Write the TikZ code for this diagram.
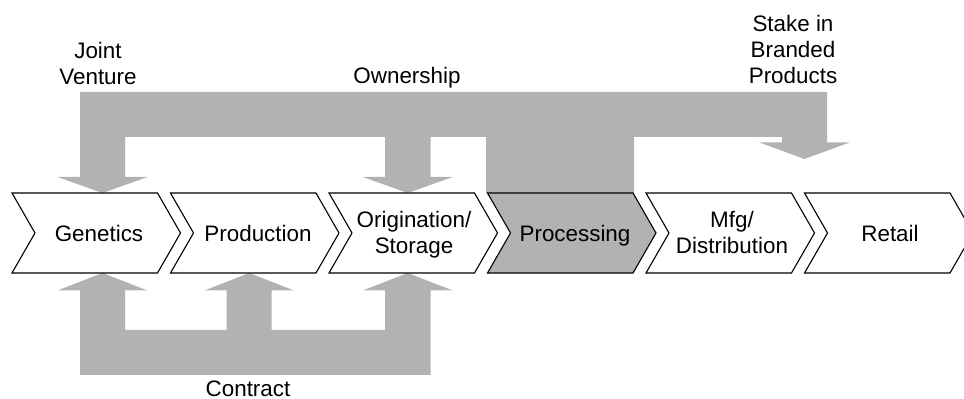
\documentclass[tikz,border=0pt]{standalone}
\usepackage{fontspec}
\setmainfont{Liberation Sans}
\definecolor{flowgray}{RGB}{178,178,178}

\begin{document}
\begin{tikzpicture}[x=0.5pt, y=-0.5pt,
  flow/.style={fill=flowgray, draw=none},
  stage/.style={draw=black, line width=0.55pt, line join=miter},
  stagetext/.style={font=\fontsize{11.2}{13.1}\selectfont, align=center, inner sep=0pt, anchor=base},
]
\clip (0,0) rectangle (964,399);

% ownership band with its three downward arrows and the processing block
\fill[flow] (80,92) -- (827,92) -- (827,142.5) -- (849.5,142.5) -- (804.5,159)
  -- (759.5,142.5) -- (782,142.5) -- (782,137) -- (634,137) -- (634,193)
  -- (486,193) -- (486,137) -- (430.5,137) -- (430.5,177) -- (452.75,177)
  -- (407.75,193) -- (362.75,177) -- (385,177) -- (385,137) -- (125,137)
  -- (125,177) -- (147.5,177) -- (102.5,193) -- (57.5,177) -- (80,177) -- cycle;

% contract band with its three upward arrows
\fill[flow] (80,375) -- (430.5,375) -- (430.5,290.5) -- (452.75,290.5)
  -- (407.75,273) -- (362.75,290.5) -- (385,290.5) -- (385,330) -- (271.7,330)
  -- (271.7,290.5) -- (294,290.5) -- (249.2,273) -- (204.4,290.5) -- (226.7,290.5)
  -- (226.7,330) -- (125,330) -- (125,290.5) -- (147.5,290.5) -- (102.5,273)
  -- (57.5,290.5) -- (80,290.5) -- cycle;

% value-chain chevrons
\foreach \L/\f in {12/white,170.5/white,329/white,487.5/flowgray,646/white,804.5/white}
  \draw[stage, fill=\f] (\L,193) -- ++(145.5,0) -- ++(23,40) -- ++(-23,40)
    -- ++(-145.5,0) -- ++(23,-40) -- cycle;

% stage names (anchored on the baseline of the last line)
\node[stagetext] (gen)  at (99,242)  {Genetics};
\node[stagetext] (prod) at (258,242) {Production};
\node[stagetext] (orig) at (414,254) {Origination/\\Storage};
\node[stagetext] (proc) at (575,242) {Processing};
\node[stagetext] (mfg)  at (732,254) {Mfg/\\Distribution};
\node[stagetext] (ret)  at (890,242) {Retail};

% relationship captions
\node[stagetext] (jv)    at (98,85)  {Joint\\Venture};
\node[stagetext] (own)   at (407,84) {Ownership};
\node[stagetext] (stake) at (793,84) {Stake in\\Branded\\Products};
\node[stagetext] (con)   at (248,396.5) {Contract};
\end{tikzpicture}
\end{document}
